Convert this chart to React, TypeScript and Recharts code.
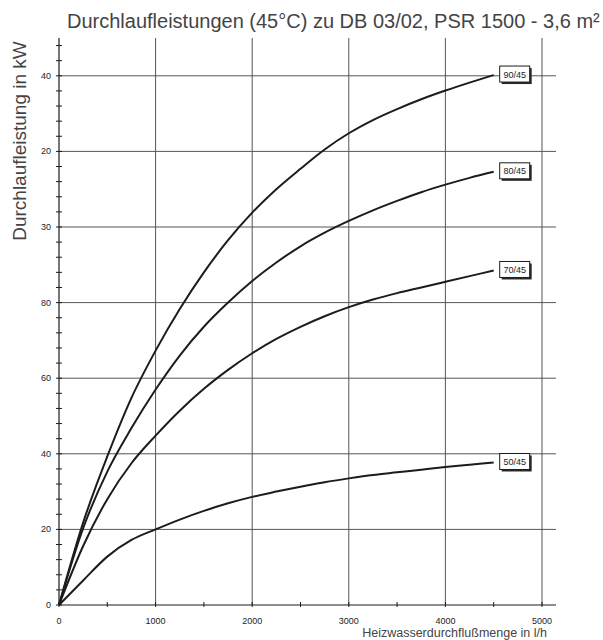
import { CartesianGrid, LineChart, Line, XAxis, YAxis } from "recharts";

// Heizwasserdurchflußmenge in l/h
const flowRates = [
  0, 250, 500, 750, 1000, 1250, 1500, 1750, 2000, 2250,
  2500, 2750, 3000, 3250, 3500, 3750, 4000, 4250, 4500,
];

// Durchlaufleistung in kW
const power9045 = [0, 21.8, 39.3, 54.8, 67.3, 78.3, 88, 96.5, 103.8, 110, 115.4, 120.5, 124.8, 128.3, 131.2, 133.8, 136.1, 138.2, 140.2];
const power8045 = [0, 20.3, 35.3, 46.8, 57, 66, 73.6, 80, 85.7, 90.6, 94.9, 98.5, 101.6, 104.4, 106.9, 109.2, 111.2, 113, 114.6];
const power7045 = [0, 15.6, 28, 37.5, 44.8, 51.4, 57.2, 62.2, 66.6, 70.4, 73.6, 76.4, 78.8, 80.8, 82.5, 84, 85.5, 87, 88.5];
const power5045 = [0, 6.5, 12.8, 17.2, 20, 22.6, 24.9, 26.9, 28.6, 30, 31.3, 32.5, 33.5, 34.4, 35.1, 35.8, 36.5, 37.1, 37.7];

const seriesKeys = ["90/45", "80/45", "70/45", "50/45"];
const seriesValues = [power9045, power8045, power7045, power5045];

const xTicks = [0, 500, 1000, 1500, 2000, 2500, 3000, 3500, 4000, 4500, 5000];
const xGridValues = [1000, 2000, 3000, 4000, 5000];
const yTicks = [0, 4, 8, 12, 16, 20, 24, 28, 32, 36, 40, 44, 48, 52, 56, 60, 64, 68, 72, 76, 80, 84, 88, 92, 96, 100, 104, 108, 112, 116, 120, 124, 128, 132, 136, 140, 144, 148];
const yGridValues = [20, 40, 60, 80, 100, 120, 140];
// labels as printed on the scan (leading "1" lost)
const yTickValues = [0, 20, 40, 60, 80, 100, 120, 140];
const yTickLabels = ["0", "20", "40", "60", "80", "30", "20", "40"];

const data = flowRates.map((flow, i) => {
  const row: Record<string, number> = { flow };
  seriesKeys.forEach((key, s) => {
    row[key] = seriesValues[s][i];
  });
  return row;
});

const font = "'Liberation Sans', Arial, sans-serif";
const ink = "#1c1c1c";

function XTick(props: any) {
  const { x, y, payload } = props;
  const v = payload.value as number;
  return (
    <g>
      <line x1={x} x2={x} y1={y - 3} y2={y + 2} stroke={ink} strokeWidth={1} />
      {v % 1000 === 0 && (
        <text x={x} y={y + 19} textAnchor="middle" fontSize={9} fontFamily={font} fill={ink}>
          {v}
        </text>
      )}
    </g>
  );
}

function YTick(props: any) {
  const { x, y, payload } = props;
  const v = payload.value as number;
  const idx = yTickValues.indexOf(v);
  return (
    <g>
      <line x1={x - 3} x2={x + 3} y1={y} y2={y} stroke={ink} strokeWidth={1} />
      {idx >= 0 && (
        <text x={x - 8} y={y + 3} textAnchor="end" fontSize={9} fontFamily={font} fill={ink}>
          {yTickLabels[idx]}
        </text>
      )}
    </g>
  );
}

function makeEndLabel(name: string) {
  return (props: any) => {
    const { x, y, index } = props;
    if (index !== flowRates.length - 1) return null;
    const bx = x + 6;
    const by = y - 9;
    return (
      <g>
        <rect x={bx + 2} y={by + 2} width={30} height={16} fill="#2a2a2a" />
        <rect x={bx} y={by} width={30} height={16} fill="#fff" stroke={ink} strokeWidth={1} />
        <text x={bx + 15} y={by + 11.5} textAnchor="middle" fontSize={9} fontFamily={font} fill={ink}>
          {name}
        </text>
      </g>
    );
  };
}

export default function App() {
  return (
    <div style={{ position: "absolute", left: 0, top: 0, width: 603, height: 640, background: "#fff" }}>
      <LineChart width={603} height={640} data={data} margin={{ top: 38, right: 47, bottom: 0, left: 0 }}>
        <CartesianGrid
          stroke="#555"
          strokeWidth={1}
          horizontalValues={yGridValues}
          verticalValues={xGridValues}
        />
        <XAxis
          dataKey="flow"
          type="number"
          domain={[0, 5145]}
          ticks={xTicks}
          interval={0}
          height={35}
          tickSize={0}
          tickMargin={0}
          tickLine={false}
          tick={XTick}
          axisLine={{ stroke: ink, strokeWidth: 1.2 }}
        />
        <YAxis
          type="number"
          domain={[0, 150]}
          ticks={yTicks}
          interval={0}
          width={59}
          tickSize={0}
          tickMargin={0}
          tickLine={false}
          tick={YTick}
          axisLine={{ stroke: ink, strokeWidth: 1.2 }}
        />
        {seriesKeys.map((key) => (
          <Line
            key={key}
            dataKey={key}
            type="monotone"
            stroke={ink}
            strokeWidth={2}
            dot={false}
            isAnimationActive={false}
            label={makeEndLabel(key)}
          />
        ))}
      </LineChart>
      <svg
        width={603}
        height={640}
        style={{ position: "absolute", left: 0, top: 0, pointerEvents: "none" }}
      >
        <text x={67} y={28} fontSize={20} fontFamily={font} fill="#444">
          Durchlaufleistungen (45°C) zu DB 03/02, PSR 1500 - 3,6 m²
        </text>
        <text
          transform="rotate(-90)"
          x={-141}
          y={26}
          textAnchor="middle"
          fontSize={19}
          fontFamily={font}
          fill="#444"
        >
          Durchlaufleistung in kW
        </text>
        <text x={547} y={637} textAnchor="end" fontSize={12.5} fontFamily={font} fill="#444">
          Heizwasserdurchflußmenge in l/h
        </text>
      </svg>
    </div>
  );
}
